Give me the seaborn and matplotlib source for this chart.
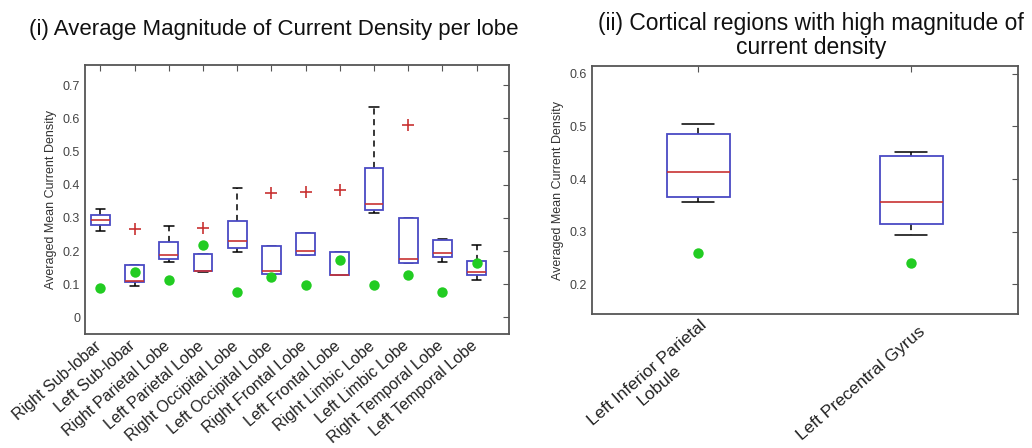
import numpy as np
import pandas as pd
import matplotlib
matplotlib.use("Agg")
import matplotlib.pyplot as plt
import matplotlib.transforms as mtransforms
import seaborn as sns

# (i) per lobe -- five-number points (top point = whisker end or outlier)
lobes = ["Right Sub-lobar", "Left Sub-lobar", "Right Parietal Lobe", "Left Parietal Lobe",
         "Right Occipital Lobe", "Left Occipital Lobe", "Right Frontal Lobe", "Left Frontal Lobe",
         "Right Limbic Lobe", "Left Limbic Lobe", "Right Temporal Lobe", "Left Temporal Lobe"]
lobe_low = [0.259, 0.094, 0.168, 0.137, 0.196, 0.132, 0.187, 0.129, 0.314, 0.165, 0.168, 0.114]
lobe_q1 = [0.277, 0.106, 0.176, 0.141, 0.208, 0.132, 0.187, 0.129, 0.323, 0.165, 0.182, 0.127]
lobe_med = [0.294, 0.111, 0.187, 0.141, 0.229, 0.139, 0.199, 0.129, 0.342, 0.176, 0.194, 0.137]
lobe_q3 = [0.308, 0.158, 0.226, 0.191, 0.289, 0.214, 0.254, 0.196, 0.449, 0.299, 0.232, 0.169]
lobe_high = [0.326, 0.265, 0.274, 0.268, 0.390, 0.376, 0.379, 0.384, 0.633, 0.581, 0.237, 0.219]
lobe_green = [0.089, 0.136, 0.113, 0.218, 0.077, 0.121, 0.097, 0.172, 0.098, 0.128, 0.076, 0.164]

# (ii) cortical regions
regions = ["Left Inferior Parietal\nLobule", "Left Precentral Gyrus"]
reg_low = [0.357, 0.294]
reg_q1 = [0.366, 0.315]
reg_med = [0.413, 0.357]
reg_q3 = [0.485, 0.443]
reg_high = [0.505, 0.452]
reg_green = [0.260, 0.240]


def long_form(cats, *cols):
    rows = []
    for i, c in enumerate(cats):
        for col in cols:
            rows.append({"cat": c, "val": col[i]})
    return pd.DataFrame(rows)


sns.set_style("white")
plt.rcParams["font.family"] = ["Liberation Sans", "DejaVu Sans"]

BLUE = "#4a4ac4"
RED = "#c83232"
GREEN = "#22cc22"
FRAME = "#555555"

# caps/whiskers sit under the box so caps at a box edge are hidden (matlab look)
box_kw = dict(
    fill=True, color="white", whis=1.5,
    boxprops=dict(edgecolor=BLUE, facecolor="white", linewidth=1.3, zorder=2),
    medianprops=dict(color=RED, linewidth=1.2, zorder=2.5),
    whiskerprops=dict(color="black", linestyle=(0, (4, 3)), linewidth=1.1, zorder=1.5),
    capprops=dict(color="black", linewidth=1.1, zorder=1.5),
    flierprops=dict(marker="+", markeredgecolor=RED, markersize=8, markeredgewidth=1.2),
)

fig = plt.figure(figsize=(10.32, 4.48), dpi=100)
ax1 = fig.add_axes([0.0824, 0.2545, 0.411, 0.60])
ax2 = fig.add_axes([0.5736, 0.299, 0.4128, 0.5536])

df1 = long_form(lobes, lobe_low, lobe_q1, lobe_med, lobe_q3, lobe_high)
sns.boxplot(data=df1, x="cat", y="val", order=lobes, width=0.55, ax=ax1, **box_kw)
sns.stripplot(x=lobes, y=lobe_green, order=lobes, jitter=False, color=GREEN, size=7.5,
              linewidth=0, zorder=3, ax=ax1)

df2 = long_form(regions, reg_low, reg_q1, reg_med, reg_q3, reg_high)
sns.boxplot(data=df2, x="cat", y="val", order=regions, width=0.3, ax=ax2, **box_kw)
sns.stripplot(x=regions, y=reg_green, order=regions, jitter=False, color=GREEN, size=7.5,
              linewidth=0, zorder=3, ax=ax2)

ax1.set_xlim(-0.45, 11.95)
ax1.set_ylim(-0.05, 0.76)
ax1.set_yticks(np.arange(0, 0.71, 0.1))
ax1.set_yticklabels(["0", "0.1", "0.2", "0.3", "0.4", "0.5", "0.6", "0.7"])
ax2.set_xlim(-0.5, 1.5)
ax2.set_ylim(0.143, 0.615)
ax2.set_yticks([0.2, 0.3, 0.4, 0.5, 0.6])

settings = ((ax1, lobes, 11.5, "top", 3, (-6, 0)),
            (ax2, regions, 12.5, "center", 9, (12, -3)))
for ax, labels, fs, va, pad, shift in settings:
    ax.set_xlabel("")
    ax.set_ylabel("Averaged Mean Current Density", fontsize=9, color="#333333")
    ax.set_xticks(range(len(labels)))
    ax.set_xticklabels(labels, rotation=41, ha="right", va=va, rotation_mode="anchor",
                       fontsize=fs, multialignment="center")
    ax.tick_params(axis="both", direction="in", top=True, right=True, length=4,
                   color=FRAME, labelcolor="#222222")
    ax.tick_params(axis="x", pad=pad)
    ax.tick_params(axis="y", labelsize=9, labelcolor="#444444")
    offset = mtransforms.ScaledTranslation(shift[0] / 100, shift[1] / 100, fig.dpi_scale_trans)
    for lab in ax.get_xticklabels():
        lab.set_transform(lab.get_transform() + offset)
    for sp in ax.spines.values():
        sp.set_color(FRAME)
        sp.set_linewidth(1.3)

fig.text(0.265, 1 - 35 / 448, "(i) Average Magnitude of Current Density per lobe",
         fontsize=16, ha="center", va="baseline", color="#111111")
fig.text(0.786, 1 - 12 / 448, "(ii) Cortical regions with high magnitude of\ncurrent density",
         fontsize=16.5, ha="center", va="top", linespacing=1.05, color="#111111")

fig.savefig("out.png", dpi=100)
